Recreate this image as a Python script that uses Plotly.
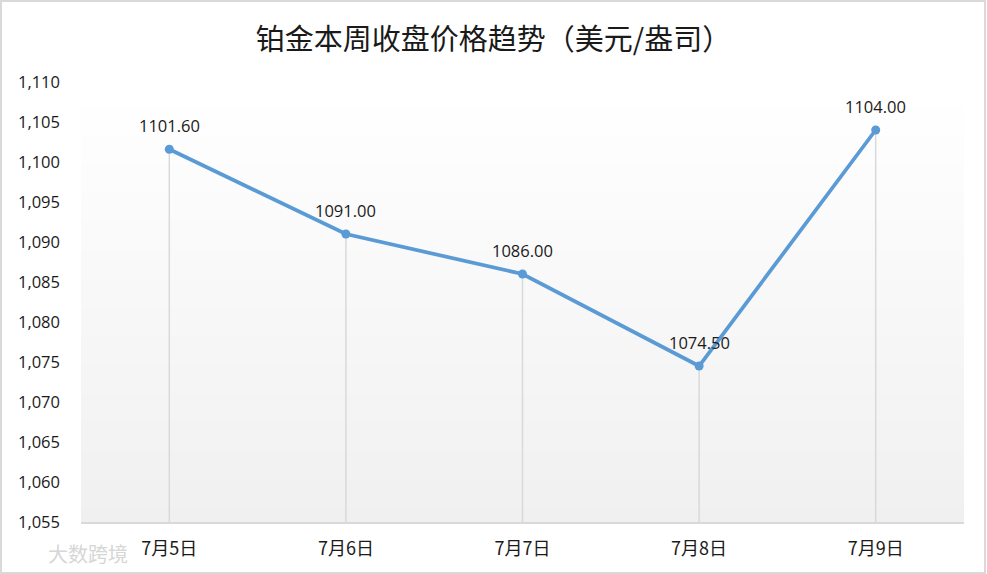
import plotly.graph_objects as go

categories = ["7月5日", "7月6日", "7月7日", "7月8日", "7月9日"]
prices = [1101.60, 1091.00, 1086.00, 1074.50, 1104.00]
y_min, y_max, y_step = 1055, 1110, 5
title_text = "铂金本周收盘价格趋势（美元/盎司）"
watermark = "大数跨境"

line_color = "#5b9bd5"
drop_color = "#d9d9d9"
font_lat = "Open Sans, Liberation Sans, sans-serif"
font_cjk = "Noto Sans CJK SC, sans-serif"

fig = go.Figure()

# drop lines from each point down to the axis floor
fig.add_trace(go.Scatter(
    x=categories, y=prices, mode="markers",
    marker=dict(size=1, color="rgba(0,0,0,0)"),
    error_y=dict(type="data", symmetric=False,
                 array=[0] * len(prices),
                 arrayminus=[p - y_min for p in prices],
                 color=drop_color, thickness=1.5, width=0),
    hoverinfo="skip", showlegend=False,
))

fig.add_trace(go.Scatter(
    x=categories, y=prices, mode="lines+markers",
    line=dict(color=line_color, width=3.75),
    marker=dict(size=9, color=line_color),
    showlegend=False,
))

for c, p in zip(categories, prices):
    fig.add_annotation(x=c, y=p, text=f"{p:.2f}", showarrow=False,
                       yshift=24, font=dict(family=font_lat, size=16.5, color="#1a1a1a"))

# vertical gradient background in the plot area
n = 60
top = 0.975
for i in range(n):
    y0 = top * i / n
    y1 = top * (i + 1) / n
    t = i / (n - 1)  # 0 at bottom, 1 at top
    v = round(240 + (255 - 240) * t)
    fig.add_shape(type="rect", xref="paper", yref="paper",
                  x0=0, x1=1, y0=y0, y1=y1 + 0.002,
                  fillcolor=f"rgb({v},{v},{v})", line=dict(width=0), layer="below")

# chart border
fig.add_shape(type="rect", xref="paper", yref="paper",
              x0=-80 / 883, x1=1 + 21 / 883, y0=-51 / 440, y1=1 + 81 / 440,
              line=dict(color="#d9d9d9", width=2), fillcolor="rgba(0,0,0,0)")

fig.add_annotation(text=watermark, xref="paper", yref="paper",
                   x=-35 / 883, y=-31 / 440, xanchor="left", yanchor="middle",
                   showarrow=False,
                   font=dict(family=font_cjk, size=20, color="#d6d6d6"))

fig.update_layout(
    width=987, height=574,
    margin=dict(l=81, r=23, t=82, b=52, autoexpand=False),
    paper_bgcolor="white", plot_bgcolor="rgba(0,0,0,0)",
    title=dict(text=title_text, x=0.5, xanchor="center", y=1 - 40 / 574, yanchor="middle",
               font=dict(family=font_cjk, size=29, color="#1a1a1a")),
    xaxis=dict(type="category", showgrid=False, showline=True, linecolor="#d9d9d9",
               linewidth=1.5, ticks="", ticklabelstandoff=10, automargin=False,
               tickfont=dict(family=font_cjk, size=18, color="#1a1a1a"),
               range=[-0.5, len(categories) - 0.5]),
    yaxis=dict(range=[y_min, y_max], dtick=y_step, tick0=y_min, tickformat=",",
               showgrid=False, showline=False, zeroline=False, ticks="",
               ticklabelstandoff=20, automargin=False,
               tickfont=dict(family=font_lat, size=16.5, color="#1a1a1a")),
)

fig.write_html("out.html", config={"displayModeBar": False},
               post_script="document.body.style.margin='0';document.body.style.padding='0';")
